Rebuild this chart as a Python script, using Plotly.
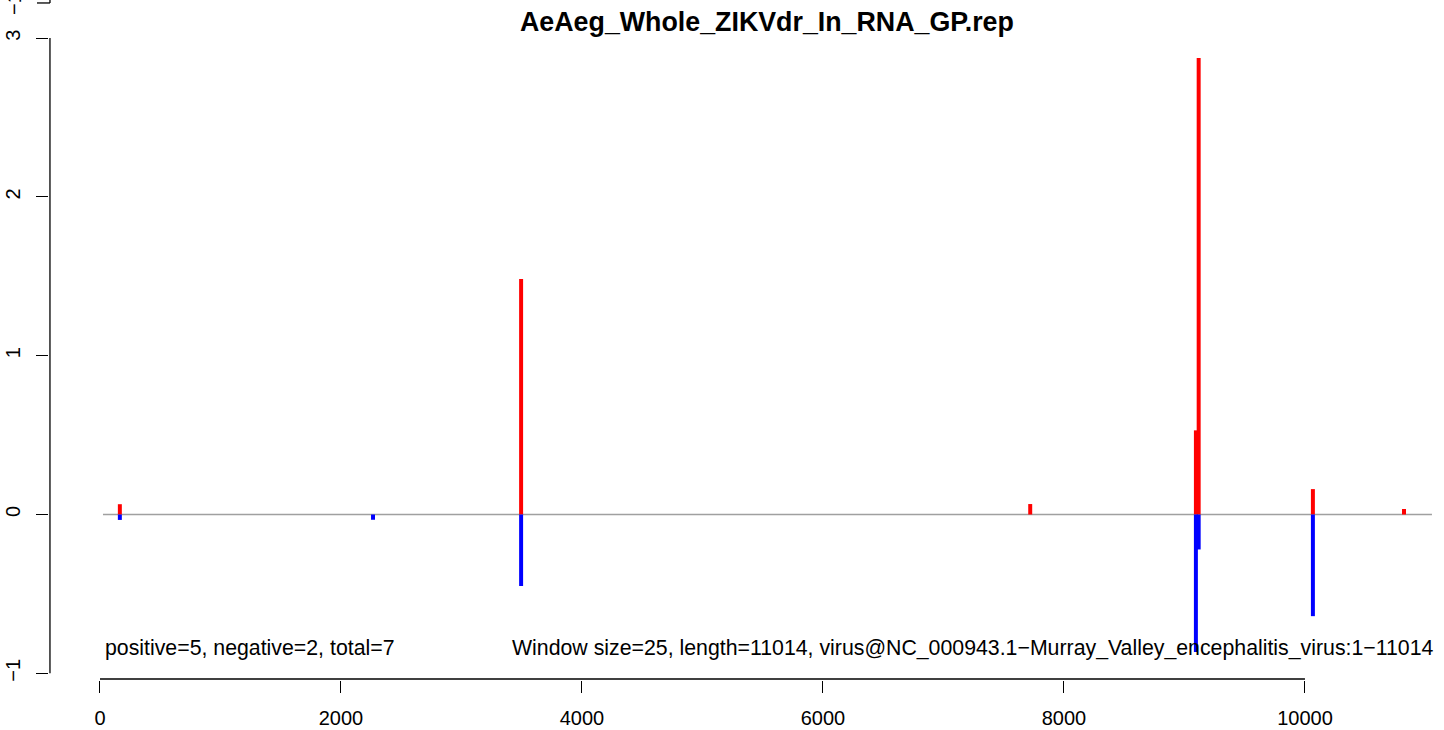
import plotly.graph_objects as go

# Coverage profile: positive-strand (red) and negative-strand (blue) windows
pos_positions = [165, 3495, 7720, 9095, 9118, 10066, 10822]
pos_values = [0.065, 1.483, 0.066, 0.53, 2.874, 0.16, 0.035]

neg_positions = [165, 2266, 3495, 9095, 9118, 10066]
neg_values = [-0.034, -0.033, -0.45, -0.866, -0.22, -0.64]

x_ticks = [0, 2000, 4000, 6000, 8000, 10000]
y_ticks = [-1, 0, 1, 2, 3]

title_text = "AeAeg_Whole_ZIKVdr_In_RNA_GP.rep"
left_note = "positive=5, negative=2, total=7"
right_note = ("Window size=25, length=11014, "
              "virus@NC_000943.1\u2212Murray_Valley_encephalitis_virus:1\u221211014")

FONT = "Liberation Sans, Arial, Helvetica, sans-serif"
BAR_W = 33

X_RANGE = [-423, 11154]
Y_RANGE = [-1.042, 3.114]

fig = go.Figure()
fig.add_trace(go.Bar(x=pos_positions, y=pos_values, width=BAR_W,
                     marker=dict(color="#FF0000", line=dict(width=0)),
                     hoverinfo="x+y"))
fig.add_trace(go.Bar(x=neg_positions, y=neg_values, width=BAR_W,
                     marker=dict(color="#0000FF", line=dict(width=0)),
                     hoverinfo="x+y"))

shapes = [
    # baseline at zero
    dict(type="line", xref="x", yref="y", x0=25, x1=11054, y0=0, y1=0,
         line=dict(color="#a0a0a0", width=1.5), layer="below"),
    # y axis line spanning the tick range
    dict(type="line", xref="x", yref="y", x0=-415, x1=-415,
         y0=y_ticks[0], y1=y_ticks[-1], line=dict(color="black", width=1.3)),
    # x axis line spanning the tick range
    dict(type="line", xref="x", yref="y", x0=x_ticks[0], x1=x_ticks[-1],
         y0=-1.036, y1=-1.036, line=dict(color="black", width=1.5)),
    # bottom of the axis of the panel above
    dict(type="line", xref="paper", yref="paper", x0=0.0007, x1=0.0007,
         y0=1.0258, y1=1.04, line=dict(color="black", width=1.3)),
    dict(type="line", xref="paper", yref="paper", x0=-0.0086, x1=0.0007,
         y0=1.0258, y1=1.0258, line=dict(color="black", width=1.3)),
]

annotations = [
    dict(text="<b>" + title_text + "</b>", xref="paper", yref="paper",
         x=0.5147, y=0.997, xanchor="center", yanchor="middle",
         showarrow=False, font=dict(family=FONT, size=26.8, color="black")),
    dict(text=left_note, xref="x", yref="y", x=25, y=-0.84,
         xanchor="left", yanchor="middle", showarrow=False,
         font=dict(family=FONT, size=21.3, color="black")),
    dict(text=right_note, xref="x", yref="y", x=11084, y=-0.84,
         xanchor="right", yanchor="middle", showarrow=False,
         font=dict(family=FONT, size=21.3, color="black")),
    dict(text="\u22121", xref="paper", yref="paper", x=-0.0251, y=1.0258,
         xanchor="center", yanchor="middle", textangle=-90, showarrow=False,
         font=dict(family=FONT, size=20, color="black")),
]

fig.update_layout(
    width=1444, height=730,
    margin=dict(l=49, r=0, t=20, b=50),
    paper_bgcolor="white", plot_bgcolor="white",
    barmode="overlay", showlegend=False,
    font=dict(family=FONT, size=20, color="black"),
    shapes=shapes, annotations=annotations,
    xaxis=dict(range=X_RANGE, tickvals=x_ticks, ticktext=[str(v) for v in x_ticks],
               ticks="outside", ticklen=12, tickwidth=1.3, tickcolor="black",
               showline=False, showgrid=False, zeroline=False,
               ticklabelstandoff=8, tickfont=dict(family=FONT, size=20)),
    yaxis=dict(range=Y_RANGE, tickvals=y_ticks, ticktext=["\u22121", "0", "1", "2", "3"],
               ticks="outside", ticklen=12, tickwidth=1.3, tickcolor="black",
               showline=False, showgrid=False, zeroline=False, tickangle=-90,
               ticklabelstandoff=8, tickfont=dict(family=FONT, size=20)),
)

fig.write_html("out.html")
